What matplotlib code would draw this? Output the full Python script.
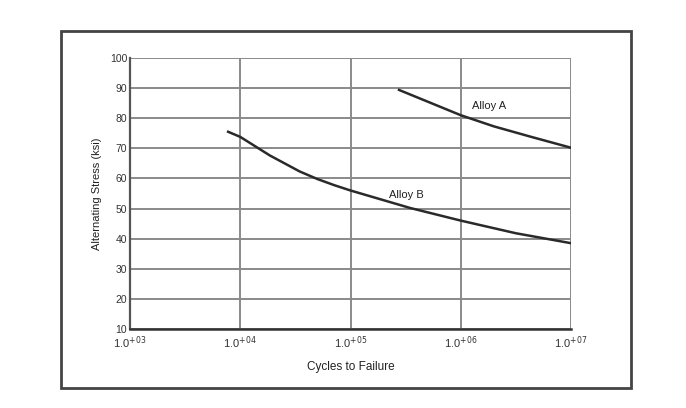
import matplotlib
matplotlib.use("Agg")
import matplotlib.pyplot as plt
from matplotlib.patches import Rectangle

plt.rcParams['font.family'] = ['Liberation Sans', 'DejaVu Sans']

# Data
alloy_a_logx = [5.44, 5.72, 6.0, 6.3, 6.63, 7.0]
alloy_a_stress = [89.4, 85.2, 81.0, 77.3, 73.9, 70.2]
alloy_b_logx = [3.89, 4.0, 4.27, 4.54, 4.7, 4.85, 5.0, 5.54, 6.0, 6.5, 7.0]
alloy_b_stress = [75.5, 73.8, 67.6, 62.3, 59.8, 57.8, 56.0, 50.2, 46.0, 41.8, 38.5]
x_ticks_exp = [3, 4, 5, 6, 7]
y_ticks = [10, 20, 30, 40, 50, 60, 70, 80, 90, 100]

fig = plt.figure(figsize=(6.86, 4.08), dpi=100)
fig.patch.set_facecolor('white')

# outer frame
fig.patches.append(Rectangle((61/686, 1-388/408), (631-61)/686, (388-31)/408,
                             transform=fig.transFigure, fill=False,
                             edgecolor='#444444', linewidth=2.0))

ax = fig.add_axes([130/686, 1-329/408, (571-130)/686, (329-58)/408])
ax.set_xscale('log')
ax.set_xlim(1e3, 1e7)
ax.set_ylim(10, 100)

ax.set_xticks([10.0**e for e in x_ticks_exp])
ax.set_xticklabels([r'1.0$^{+%02d}$' % e for e in x_ticks_exp], fontsize=8, color='#333333')
ax.xaxis.set_minor_locator(matplotlib.ticker.NullLocator())
ax.set_yticks(y_ticks)
ax.set_yticklabels([str(v) for v in y_ticks], fontsize=7.5, color='#333333')
ax.tick_params(axis='y', length=0, pad=2)
ax.tick_params(axis='x', length=0, pad=4)

ax.grid(True, color='#8a8a8a', linewidth=1.4)
ax.set_axisbelow(True)
for s in ['top', 'right']:
    ax.spines[s].set_visible(False)
ax.spines['left'].set_color('#555555')
ax.spines['bottom'].set_color('#333333')
ax.spines['left'].set_linewidth(1.6)
ax.spines['bottom'].set_linewidth(1.8)

ax.plot([10.0**v for v in alloy_a_logx], alloy_a_stress, color='#2a2a2a', linewidth=1.8)
ax.plot([10.0**v for v in alloy_b_logx], alloy_b_stress, color='#2a2a2a', linewidth=1.8)

ax.text(10**6.1, 82.5, 'Alloy A', fontsize=8, color='#222222', ha='left', va='bottom')
ax.text(10**5.35, 53, 'Alloy B', fontsize=8, color='#222222', ha='left', va='bottom')

ax.set_xlabel('Cycles to Failure', fontsize=8.5, color='#222222', labelpad=7)
ax.set_ylabel('Alternating Stress (ksi)', fontsize=8, color='#222222', labelpad=6)

fig.savefig('out.png', dpi=100)
